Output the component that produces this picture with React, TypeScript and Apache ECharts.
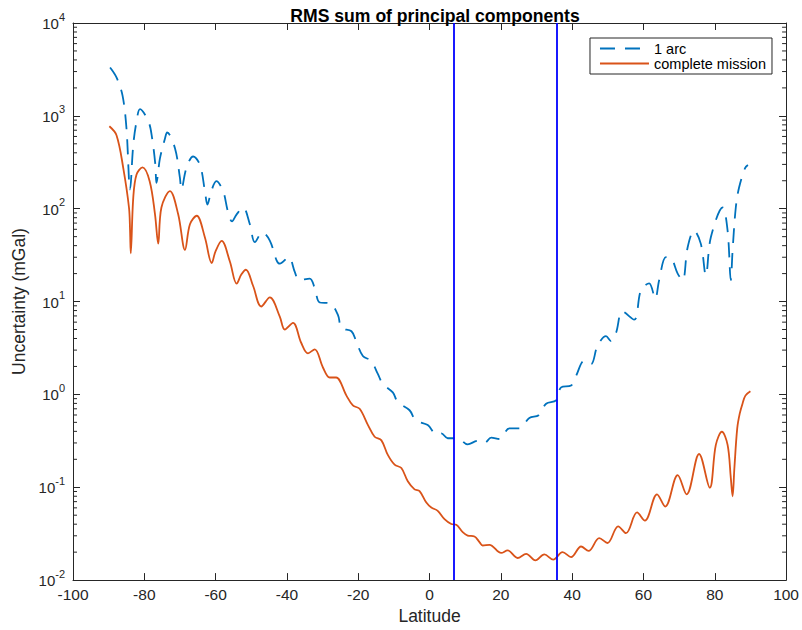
import React, { useEffect, useRef } from "react";
import * as echarts from "echarts";

// ---- data ----
const arcLat = [
  -89.6, -87.8, -86.1, -85.0, -84.0, -83.1, -82.2, -81.2, -78.8, -77.8, -76.9, -76.6, -75.6, -74.2, -73.6,
  -71.4, -70.0, -69.6, -68.2, -66.3, -64.4, -63.0, -62.3, -61.2, -59.8, -57.9, -56.6, -55.4, -54.1, -52.3,
  -50.4, -49.0, -46.9, -44.8, -42.9, -42.0, -39.5, -37.8, -36.6, -33.6, -32.2, -30.8, -28.0, -25.7, -24.7,
  -21.9, -20.6, -18.7, -16.4, -14.5, -13.1, -10.3, -8.9, -5.6, -3.9, -0.5, 1.9, 3.3, 5.1, 7.9,
  10.7, 13.5, 15.4, 17.3, 19.6, 22.4, 25.2, 28.0, 30.6, 32.7, 35.5, 36.9, 39.7, 41.1, 43.4,
  45.3, 47.1, 49.5, 50.9, 52.3, 54.1, 57.4, 59.3, 61.6, 63.3, 64.4, 66.3, 67.7, 69.6, 71.0,
  72.4, 74.2, 76.1, 77.5, 78.9, 82.2, 83.6, 84.5, 85.0, 85.9, 86.8, 88.5, 89.3,
];
const arcVal = [
  3320, 2594, 1652, 731, 161, 485, 861, 1180, 861, 571, 297, 190, 350, 571, 662,
  448, 214, 161, 274, 365, 297, 155, 111, 155, 198, 155, 95, 73, 87, 103,
  68, 43.6, 55.6, 45.4, 27.8, 25.6, 30.1, 20.9, 17, 17.7, 13.9, 9.77, 9.6, 7.2, 5.2,
  4.79, 3.75, 2.59, 2.3, 1.66, 1.3, 1.05, 0.826, 0.675, 0.527, 0.467, 0.372, 0.38, 0.337, 0.337,
  0.29, 0.316, 0.3, 0.342, 0.331, 0.43, 0.43, 0.558, 0.596, 0.794, 0.861, 1.19, 1.245, 1.585, 2.3,
  2.12, 3.32, 4.24, 3.75, 4.59, 7.83, 6.38, 13.3, 15.7, 10.8, 17, 30.1, 29.5, 20, 17,
  38.5, 58, 41.8, 19.2, 49.2, 103, 58, 17, 35.6, 103, 168, 274, 295,
];

const missionLat = [
  -89.8, -87.8, -85.9, -84.3, -84.0, -83.8, -83.1, -82.2, -80.5, -78.5, -77.0, -76.1, -75.2, -72.8, -70.5,
  -68.6, -67.2, -65.3, -63.0, -61.1, -60.0, -58.3, -56.0, -54.1, -52.8, -51.5, -49.5, -47.2, -44.8, -42.0,
  -40.6, -38.3, -36.0, -34.1, -32.2, -29.9, -28.0, -26.2, -23.3, -21.5, -19.6, -17.3, -15.4, -13.5, -11.7,
  -9.8, -7.9, -6.1, -4.2, -2.8, -0.9, 0.5, 2.3, 4.2, 6.1, 7.5, 9.3, 10.7, 12.6, 14.0,
  14.9, 16.8, 20.1, 21.9, 24.7, 27.1, 29.7, 32.2, 34.7, 37.3, 39.7, 42.5, 44.6, 47.6, 49.9,
  52.9, 55.1, 58.2, 60.4, 63.8, 66.1, 69.6, 72.1, 75.6, 78.6, 80.3, 82.0, 83.6, 84.5, 85.0,
  85.5, 86.3, 87.0, 87.8, 88.6, 90.0,
];
const missionVal = [
  773, 619, 274, 103, 59, 33, 131, 232, 279, 198, 87, 42, 103, 155, 87,
  36, 68, 84, 49, 26, 35, 45, 27, 15.6, 19.5, 22, 14.8, 8.85, 11.1, 6.9,
  5.0, 5.9, 3.6, 2.77, 3.06, 1.95, 1.52, 1.52, 0.97, 0.76, 0.7, 0.47, 0.35, 0.32, 0.223,
  0.175, 0.161, 0.116, 0.0948, 0.091, 0.0684, 0.0605, 0.0557, 0.0454, 0.0402, 0.0394, 0.0328, 0.0302, 0.0295, 0.0257,
  0.0236, 0.024, 0.0196, 0.0209, 0.0173, 0.0192, 0.0163, 0.0189, 0.0166, 0.02, 0.0177, 0.023, 0.0206, 0.0283, 0.0251,
  0.0379, 0.032, 0.0535, 0.0436, 0.0838, 0.0619, 0.135, 0.0838, 0.228, 0.0989, 0.286, 0.396, 0.286, 0.126, 0.08,
  0.16, 0.43, 0.62, 0.8, 0.97, 1.08,
];

const boundaryLats = [6.7, 35.8];
const seriesNames = ["1 arc", "complete mission"];
const minorMultipliers = [2, 3, 4, 5, 6, 7, 8, 9];
const decades = [0.01, 0.1, 1, 10, 100, 1000];

const FONT = "'Liberation Sans', Arial, Helvetica, sans-serif";
const AXIS = "#262626";

export default function App() {
  const ref = useRef<HTMLDivElement>(null);
  useEffect(() => {
    if (!ref.current) return;
    const chart = echarts.init(ref.current, undefined, { renderer: "svg" });
    const minorTicks: number[][] = [];
    decades.forEach((d) => minorMultipliers.forEach((m) => minorTicks.push([0, d * m])));

    const xAxisBase = {
      type: "value" as const,
      min: -100,
      max: 100,
      interval: 20,
      splitLine: { show: false },
      axisLine: { show: true, onZero: false, lineStyle: { color: AXIS, width: 1 } },
      axisTick: { show: true, inside: true, length: 7, lineStyle: { color: AXIS } },
    };
    const yAxisBase = {
      type: "log" as const,
      logBase: 10,
      min: 0.01,
      max: 10000,
      interval: 1,
      splitLine: { show: false },
      axisLine: { show: true, onZero: false, lineStyle: { color: AXIS, width: 1 } },
      axisTick: { show: true, inside: true, length: 7, lineStyle: { color: AXIS } },
    };

    chart.setOption({
      animation: false,
      backgroundColor: "#ffffff",
      title: {
        text: "RMS sum of principal components",
        left: 430,
        textAlign: "center",
        top: 2,
        textStyle: { fontFamily: FONT, fontSize: 17.6, fontWeight: "bold", color: "#000" },
      },
      grid: { left: 73, right: 14, top: 23, bottom: 43, containLabel: false },
      legend: {
        data: seriesNames,
        orient: "vertical",
        right: 30,
        top: 38,
        itemWidth: 49,
        itemHeight: 14,
        itemGap: 0,
        backgroundColor: "#ffffff",
        borderColor: AXIS,
        borderWidth: 1,
        borderRadius: 0,
        padding: [3, 6, 3, 9],
        itemStyle: { color: "rgba(0,0,0,0)", borderColor: "rgba(0,0,0,0)", borderWidth: 0, opacity: 0 },
        textStyle: { fontFamily: FONT, fontSize: 14.5, color: "#000", lineHeight: 14 },
      },
      xAxis: [
        {
          ...xAxisBase,
          position: "bottom",
          name: "Latitude",
          nameLocation: "middle",
          nameGap: 22,
          nameTextStyle: { fontFamily: FONT, fontSize: 17.5, color: AXIS },
          axisLabel: {
            show: true,
            margin: 6,
            fontFamily: FONT,
            fontSize: 15.5,
            color: AXIS,
            showMinLabel: true,
            showMaxLabel: true,
            hideOverlap: false,
            formatter: (v: number) => String(v),
          },
        },
        { ...xAxisBase, position: "top", axisLabel: { show: false } },
      ],
      yAxis: [
        {
          ...yAxisBase,
          position: "left",
          name: "Uncertainty (mGal)",
          nameLocation: "middle",
          nameGap: 37,
          nameTextStyle: { fontFamily: FONT, fontSize: 17.5, color: AXIS },
          axisLabel: {
            show: true,
            margin: 8,
            showMinLabel: true,
            showMaxLabel: true,
            formatter: (v: number) => `{b|10}{e|${Math.round(Math.log10(v))}}`,
            rich: {
              b: {
                fontFamily: FONT,
                fontSize: 15,
                color: AXIS,
                lineHeight: 16,
                verticalAlign: "bottom",
                padding: [8, 0, 0, 0],
              },
              e: {
                fontFamily: FONT,
                fontSize: 11,
                color: AXIS,
                lineHeight: 11,
                verticalAlign: "bottom",
                padding: [0, 0, 9, 0],
              },
            },
          },
        },
        { ...yAxisBase, position: "right", axisLabel: { show: false } },
      ],
      series: [
        {
          name: seriesNames[0],
          type: "line",
          data: arcLat.map((x, i) => [x, arcVal[i]]),
          showSymbol: false,
          symbol: "none",
          smooth: 0.35,
          lineStyle: { color: "#0072BD", width: 1.8, type: [15, 10] },
          itemStyle: { color: "#0072BD" },
          z: 3,
        },
        {
          name: seriesNames[1],
          type: "line",
          data: missionLat.map((x, i) => [x, missionVal[i]]),
          showSymbol: false,
          symbol: "none",
          smooth: 0.35,
          lineStyle: { color: "#D95319", width: 1.8, type: "solid" },
          itemStyle: { color: "#D95319" },
          z: 3,
          markLine: {
            silent: true,
            symbol: "none",
            label: { show: false },
            lineStyle: { color: "#0000FF", width: 1.8, type: "solid" },
            data: boundaryLats.map((x) => ({ xAxis: x })),
          },
        },
        {
          name: "minorTicks",
          type: "custom",
          silent: true,
          data: minorTicks,
          renderItem: (params: any, api: any) => {
            const y = api.coord([0, api.value(1)])[1];
            const cs = params.coordSys;
            const style = { stroke: AXIS, lineWidth: 1 };
            return {
              type: "group",
              children: [
                { type: "line", shape: { x1: cs.x, y1: y, x2: cs.x + 4, y2: y }, style },
                { type: "line", shape: { x1: cs.x + cs.width - 4, y1: y, x2: cs.x + cs.width, y2: y }, style },
              ],
            };
          },
          z: 5,
        },
      ],
    });
    return () => chart.dispose();
  }, []);
  return (
    <div
      ref={ref}
      style={{ position: "fixed", left: 0, top: 0, width: 802, height: 630, background: "#fff" }}
    />
  );
}
